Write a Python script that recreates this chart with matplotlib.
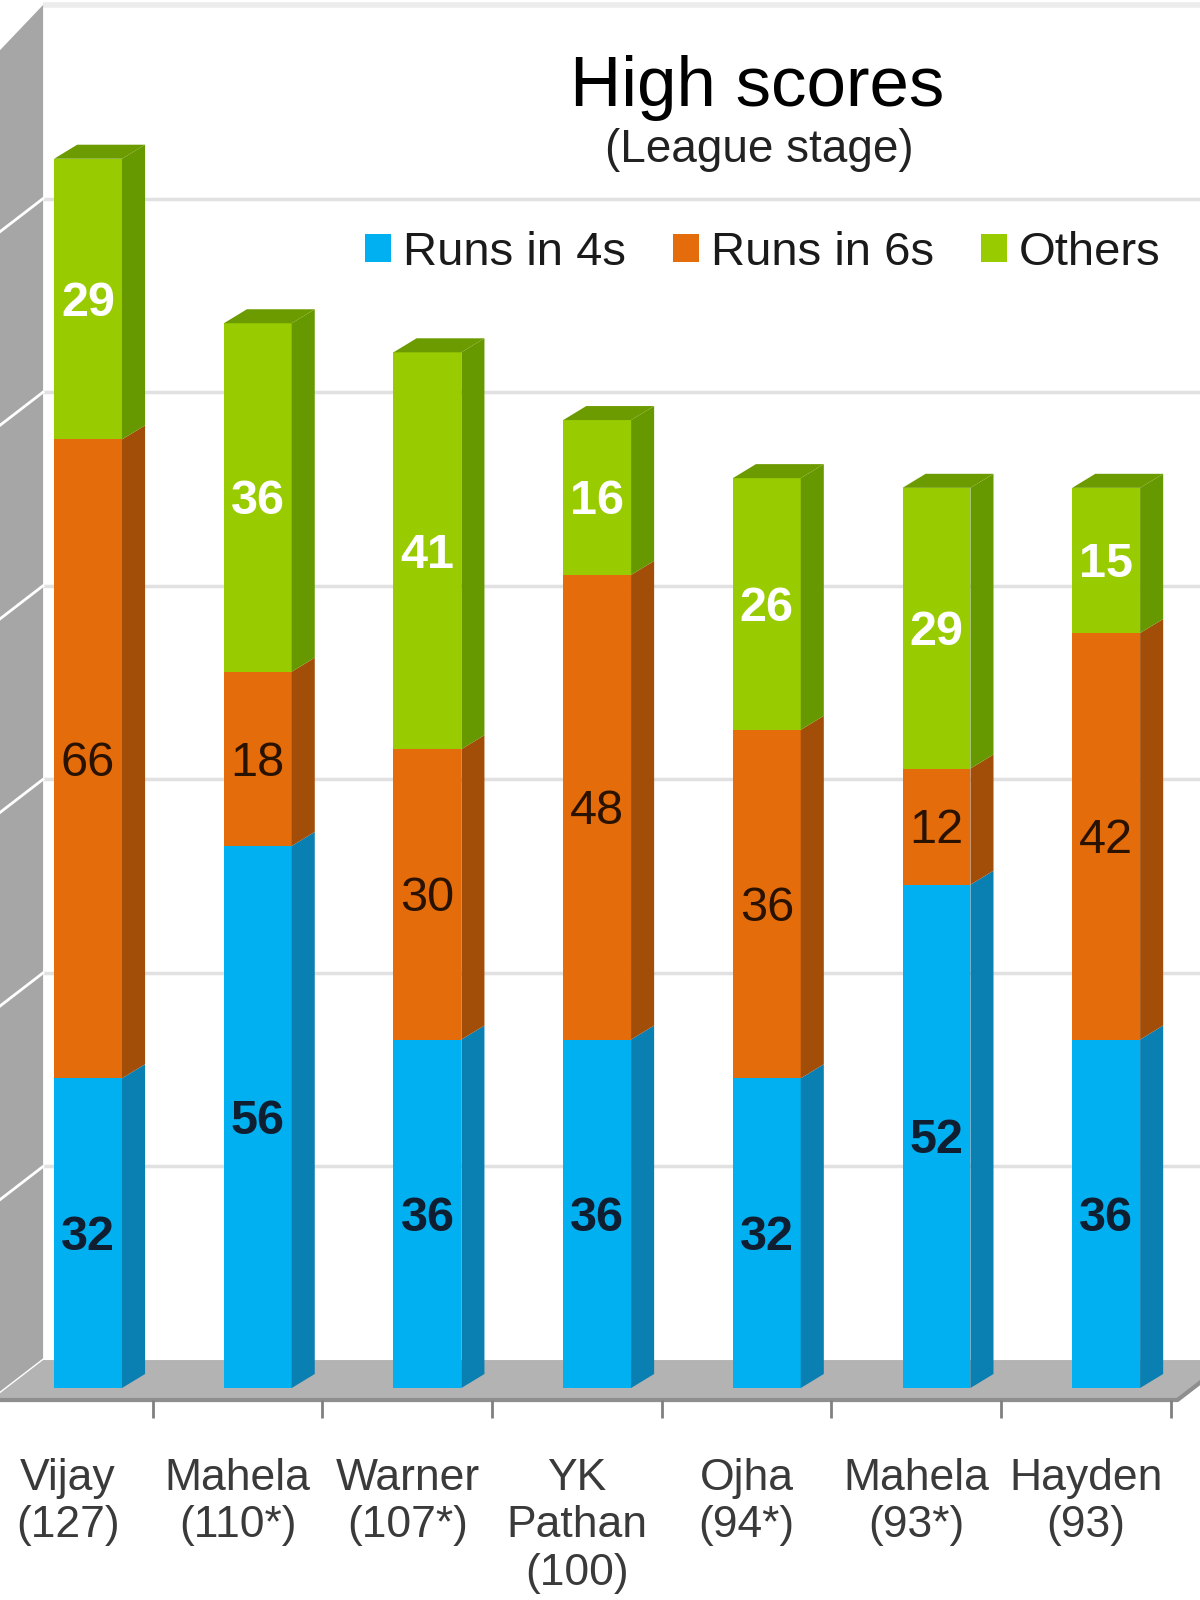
import numpy as np
import matplotlib.pyplot as plt
from matplotlib.patches import Polygon

# data
players = ['Vijay\n(127)', 'Mahela\n(110*)', 'Warner\n(107*)', 'YK\nPathan\n(100)',
           'Ojha\n(94*)', 'Mahela\n(93*)', 'Hayden\n(93)']
fours = [32, 56, 36, 36, 32, 52, 36]
sixes = [66, 18, 30, 48, 36, 12, 42]
others = [29, 36, 41, 16, 26, 29, 15]
series = ['Runs in 4s', 'Runs in 6s', 'Others']
grid_vals = [20, 40, 60, 80, 100, 120]

plt.rcParams['font.family'] = ['Liberation Sans', 'DejaVu Sans']

fig = plt.figure(figsize=(12, 16), dpi=100)
ax = fig.add_axes([0, 0, 1, 1])
ax.set_xlim(-0.519, 6.553)
ax.set_ylim(-21.9, 143.4)
ax.axis('off')

# 3d geometry (data units)
w = 0.4
dx, dy = 0.136, 1.45          # bar depth
wall_dx, wall_dy = 0.306, 4.13  # floor depth
wall_x = -0.265
back = 2.89                   # back wall baseline
front = back - wall_dy        # front edge of floor
ymax = 140
floor_right = 6.42

# back wall grid
ax.hlines([v + back for v in grid_vals], wall_x, 6.7, color='#e1e1e1', lw=2.5, zorder=1)
ax.hlines(ymax + back, wall_x, 6.7, color='#ececec', lw=4, zorder=1)

# left wall
ax.add_patch(Polygon([(wall_x, back), (wall_x, ymax + back),
                      (wall_x - wall_dx, ymax + back - wall_dy - 1.5), (wall_x - wall_dx, front)],
                     fc='#a6a6a6', ec='none', zorder=2))
for v in [0] + grid_vals:
    ax.plot([wall_x, wall_x - wall_dx], [v + back, v + back - wall_dy], color='white', lw=2, zorder=2)

# floor
ax.add_patch(Polygon([(wall_x, back), (floor_right + wall_dx, back),
                      (floor_right, front), (wall_x - wall_dx, front)],
                     fc='#b3b3b3', ec='none', zorder=2))
ax.plot([wall_x - wall_dx, floor_right, floor_right + wall_dx], [front, front, back],
        color='#8e8e8e', lw=3, zorder=2)

# stacked 3d bars
x = np.arange(len(players))
bottoms = np.zeros(len(players))
fronts = ['#00b0f0', '#e46c0a', '#99cc00']
sides = ['#0a7fb2', '#a24d08', '#669900']
txt_colors = ['#0f1e30', '#2a1200', 'white']
txt_weights = ['bold', 'normal', 'bold']
for vals, fc, sc, tc, tw, name in zip([fours, sixes, others], fronts, sides,
                                      txt_colors, txt_weights, series):
    vals = np.array(vals)
    ax.bar(x, vals, w, bottom=bottoms, color=fc, label=name, zorder=4)
    for xi, b, v in zip(x, bottoms, vals):
        r = xi + w / 2
        ax.add_patch(Polygon([(r, b), (r + dx, b + dy), (r + dx, b + v + dy), (r, b + v)],
                             fc=sc, ec='none', zorder=4))
        ax.text(xi, b + v / 2 - 0.45, str(v), ha='center', va='center', fontsize=35,
                color=tc, fontweight=tw, zorder=6)
    bottoms = bottoms + vals

for xi, t in zip(x, bottoms):
    ax.add_patch(Polygon([(xi - w / 2, t), (xi - w / 2 + dx, t + dy),
                          (xi + w / 2 + dx, t + dy), (xi + w / 2, t)],
                         fc='#6c9b00', ec='none', zorder=4))

# category ticks and labels
ax.vlines(x + 0.38, front - 1.9, front, color='#808080', lw=2, zorder=3)
for xi, name in zip(x, players):
    ax.text(xi - 0.118, -7.2, name, ha='center', va='top', fontsize=32,
            color='#3a3a3a', linespacing=1.2)

# title
fig.text(0.631, 0.934, 'High scores', ha='center', va='baseline', fontsize=51, color='black')
fig.text(0.633, 0.899, '(League stage)', ha='center', va='baseline', fontsize=33, color='#222222')

ax.legend(loc='center right', bbox_to_anchor=(0.967, 0.842), bbox_transform=fig.transFigure,
          ncol=3, frameon=False, fontsize=34, handlelength=0.55, handleheight=0.55,
          handletextpad=0.25, columnspacing=1.0, borderpad=0, borderaxespad=0,
          labelcolor='#1a1a1a')

fig.savefig('out.png', dpi=100)
